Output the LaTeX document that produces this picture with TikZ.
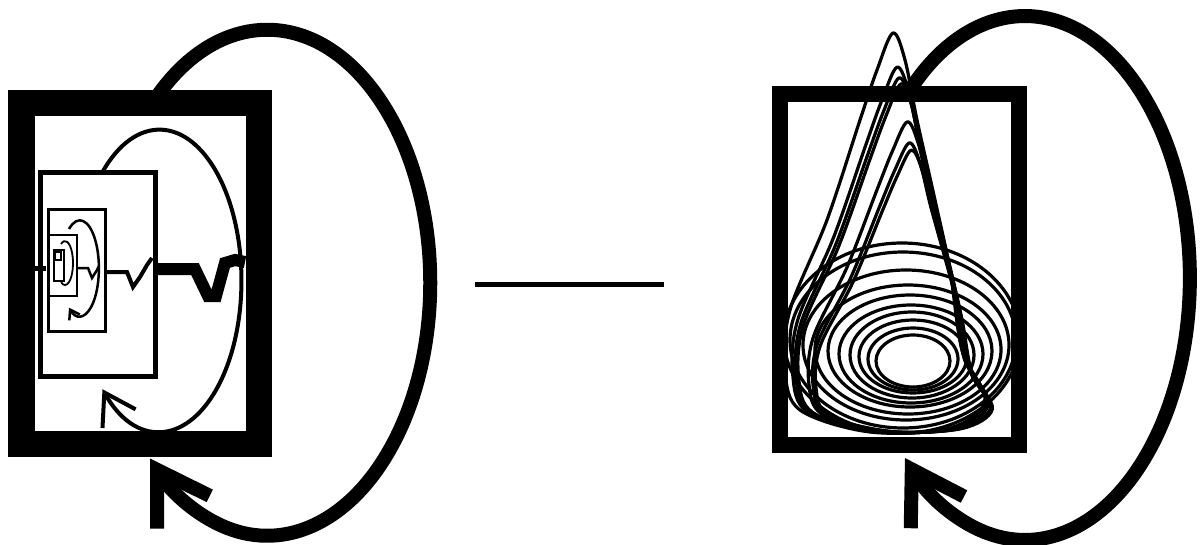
\documentclass[tikz,border=0pt]{standalone}
\usetikzlibrary{arrows.meta, positioning, calc}
\begin{document}
\begin{tikzpicture}[
    x=1pt, y=-1pt,
    frame/.style={draw, inner sep=0pt, outer sep=0pt},
    loopbig/.style={line width=14pt, -{Straight Barb[length=50pt, width=62pt]}},
    loopmid/.style={line width=4pt, -{Straight Barb[length=30pt, width=38pt]}},
    loopsmall/.style={line width=2.5pt, -{Straight Barb[length=9pt, width=12pt]}},
    looptiny/.style={line width=1.8pt},
    zig/.style={line join=miter, miter limit=10},
    contour/.style={line width=3.2pt, line join=round},
]
\useasboundingbox (0,0) rectangle (1200,544);
% === LEFT: nested frames ===
\node[frame, line width=26.5pt, minimum width=237.5pt, minimum height=341pt] (boxL) at (140.25,273.5) {};
\node[frame, line width=5pt, minimum width=115pt, minimum height=204pt] (boxL1) at (97.5,274) {};
\node[frame, line width=3pt, minimum width=57pt, minimum height=122pt] (boxL2) at (76.5,270) {};
\node[frame, line width=2.5pt, minimum width=28pt, minimum height=61pt] (boxL3) at (63,265.5) {};
\node[frame, line width=2pt, minimum width=10pt, minimum height=31pt] (boxL4) at (59,265.5) {};
\node[frame, line width=1.5pt, minimum width=6pt, minimum height=8pt] (boxL5) at (58,256) {};
% self loops, outer to inner
\coordinate (loopL) at (150,107);
\draw[loopbig] (loopL) arc[start angle=224, end angle=496, x radius=163, y radius=253];
\coordinate (loopL1) at ([xshift=5pt]boxL1.north);
\draw[loopmid] (loopL1) arc[start angle=226, end angle=494, x radius=82, y radius=151];
\coordinate (loopL2) at (69,229);
\draw[loopsmall] (loopL2) arc[start angle=235, end angle=485, x radius=19, y radius=48];
\coordinate (loopL3) at (61,244);
\draw[looptiny] (loopL3) arc[start angle=240, end angle=480, x radius=8, y radius=22];
% zigzag links
\draw[zig, line width=12pt] (boxL1.east |- 0,269) -- (195,269) -- (208,296) -- (216,296) -- (225,263) -- (235,260) -- (245,262);
\draw[zig, line width=4pt] (105,272) -- (127,272) -- (133,287) -- (140,277) -- (147,265) -- (152,258);
\draw[zig, line width=2.5pt] (77,268) -- (88,268) -- (92,278) -- (97,270) -- (99,266);
\draw[line width=5pt] (33,268) -- (46,268);
% === MIDDLE link ===
\coordinate (midA) at (475,284.5);
\coordinate (midB) at (664,284.5);
\draw[line width=5pt] (midA) -- (midB);
% === RIGHT: frame with density contours ===
\node[frame, line width=16pt, minimum width=239.5pt, minimum height=351.5pt] (boxR) at (899.25,269.25) {};
\coordinate (loopR) at (905,98);
\draw[loopbig] (loopR) arc[start angle=223.4, end angle=496.6, x radius=165, y radius=262];
% rings around the mode
\foreach \cx/\cy/\rx/\ry in {913/361/37/26, 913/359/45/31, 913/356.5/54/36.5, 912/355/62/43, 911/354/72/49,
    910/351/82/56, 908/349.5/93/64.5, 906/345/103/75, 903/340/113/88, 902/338/118/95} {
    \draw[contour] (\cx,\cy) ellipse[x radius=\rx, y radius=\ry];
}
% tall drops
\foreach \s/\dx in {1/0, .914/4, .887/6, .872/8, .776/14, .723/16, .705/18} {
    \begin{scope}[shift={(895+\dx,430)}, yscale=\s, xscale={1-(1-\s)*0.4}]
        \draw[contour] plot[smooth cycle, tension=0.55] coordinates {
            (-2,-397) (10,-370) (22,-310) (40,-230) (55,-160) (67,-80) (90,-30)
            (55,-2) (-25,2) (-95,-20) (-110,-60) (-105,-120) (-68,-210) (-35,-310) (-18,-360)};
    \end{scope}
}
\end{tikzpicture}
\end{document}
